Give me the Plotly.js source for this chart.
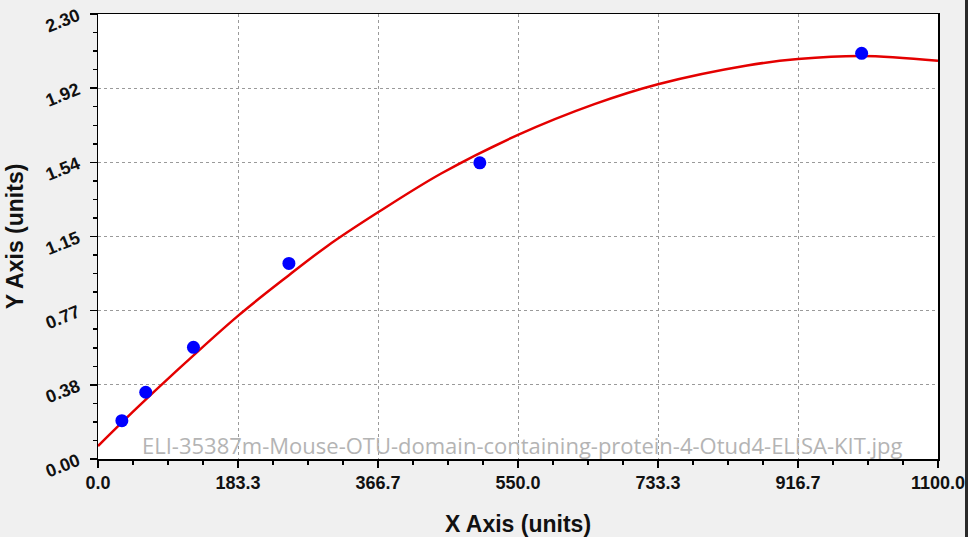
<!DOCTYPE html>
<html>
<head>
<meta charset="utf-8">
<script src="https://cdn.plot.ly/plotly-3.0.1.min.js"></script>
<style>
  html, body { margin: 0; padding: 0; background: #f0f0f0; }
  #chart { width: 968px; height: 537px; }
</style>
</head>
<body>
<div id="chart"></div>
<script>
// standards
const stdX = [31.25, 62.5, 125, 250, 500, 1000];
const stdY = [0.198, 0.345, 0.577, 1.011, 1.531, 2.097];

// fitted curve, read at a few x positions
const fitX = [0, 50, 100, 183.3, 250, 300, 366.7, 450, 550, 650, 733.3, 850, 916.7, 1000, 1100];
const fitY = [0.067, 0.26, 0.445, 0.74, 0.95, 1.10, 1.275, 1.477, 1.675, 1.834, 1.937, 2.034, 2.067, 2.083, 2.058];

const yTickText = ['0.00', '0.38', '0.77', '1.15', '1.54', '1.92', '2.30'];
const yTickVals = yTickText.map((t, i) => i * 2.3 / 6);

const watermark = 'ELI-35387m-Mouse-OTU-domain-containing-protein-4-Otud4-ELISA-KIT.jpg';

const fit = {
   x: fitX,
   y: fitY,
   type: 'scatter',
   mode: 'lines',
   line: { color: '#e40000', width: 2.5, shape: 'spline' },
   hoverinfo: 'skip'
};
const points = {
   x: stdX,
   y: stdY,
   type: 'scatter',
   mode: 'markers',
   marker: { color: '#0000ff', size: 13 }
};

const tickFont = { family: 'Liberation Sans, Arial, sans-serif', size: 18, color: '#111', weight: 'bold' };
const titleFont = { family: 'Liberation Sans, Arial, sans-serif', size: 23, color: '#111', weight: 'bold' };

const layout = {
   width: 968,
   height: 537,
   showlegend: false,
   paper_bgcolor: '#f0f0f0',
   plot_bgcolor: '#ffffff',
   margin: { l: 98, r: 30, t: 14, b: 78, pad: 0 },
   xaxis: {
      range: [0, 1100],
      tick0: 0,
      dtick: 1100 / 6,
      tickformat: '.1f',
      ticks: 'outside',
      ticklen: 7,
      tickwidth: 1.5,
      tickcolor: '#000',
      tickfont: tickFont,
      showline: true,
      linecolor: '#000',
      linewidth: 1.5,
      mirror: true,
      zeroline: false,
      showgrid: true,
      gridcolor: '#9a9a9a',
      griddash: '3px,3px',
      gridwidth: 1,
      minor: { dtick: 1100 / 24, tick0: 0, ticks: 'outside', ticklen: 4, tickcolor: '#000', showgrid: false },
      title: { text: 'X Axis (units)', font: titleFont, standoff: 30 },
      automargin: false
   },
   yaxis: {
      range: [0, 2.3],
      tickmode: 'array',
      tickvals: yTickVals,
      ticktext: yTickText,
      tickangle: -22,
      ticks: 'outside',
      ticklen: 7,
      tickwidth: 1.5,
      tickcolor: '#000',
      tickfont: tickFont,
      ticklabelstandoff: 8,
      showline: true,
      linecolor: '#000',
      linewidth: 1.5,
      mirror: true,
      zeroline: false,
      showgrid: true,
      gridcolor: '#9a9a9a',
      griddash: '3px,3px',
      gridwidth: 1,
      minor: { tickmode: 'linear', dtick: 2.3 / 24, tick0: 0, ticks: 'outside', ticklen: 4, tickcolor: '#000', showgrid: false },
      title: { text: 'Y Axis (units)', font: titleFont, standoff: 12 },
      automargin: false
   },
   annotations: [{
      text: watermark,
      xref: 'paper', yref: 'paper',
      x: (522 - 98) / 840, y: 0.032,
      xanchor: 'center', yanchor: 'middle',
      showarrow: false,
      font: { family: 'Open Sans, Noto Sans, sans-serif', size: 22, color: '#b4b4b4' }
   }],
   shapes: [{
      type: 'rect', xref: 'paper', yref: 'paper',
      x0: (965 - 98) / 840, x1: (975 - 98) / 840, y0: -0.2, y1: 1.05,
      fillcolor: '#2a2a2a', line: { width: 0 }, layer: 'above'
   }]
};

Plotly.newPlot('chart', [fit, points], layout, { displayModeBar: false, staticPlot: true });
</script>
</body>
</html>
